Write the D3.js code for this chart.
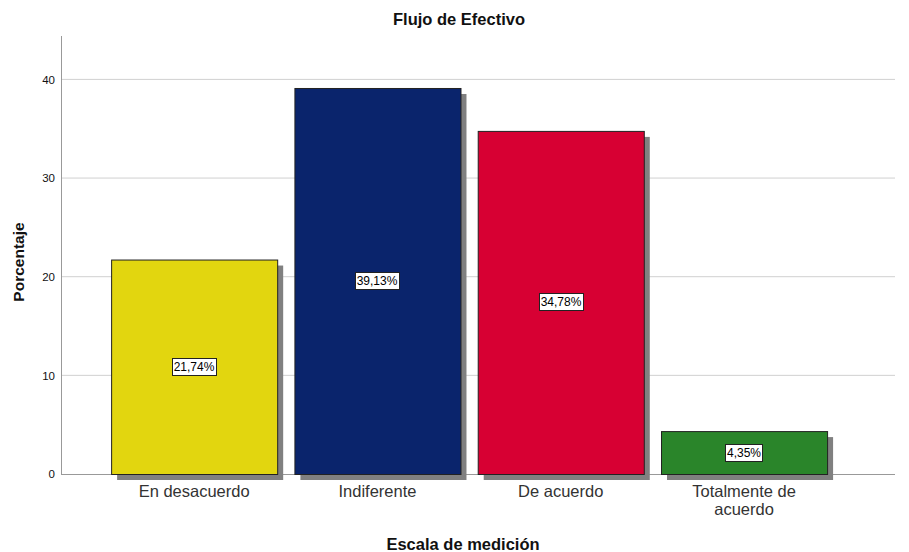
<!DOCTYPE html>
<html><head><meta charset="utf-8">
<script src="https://cdn.jsdelivr.net/npm/d3@7"></script>
<style>body{margin:0;background:#fff}svg{display:block;font-family:Arial,"Liberation Sans",sans-serif}</style>
</head><body>
<svg id="c" width="909" height="552"></svg>
<script>
const categories = ["En desacuerdo","Indiferente","De acuerdo","Totalmente de acuerdo"];
const values = [21.74, 39.13, 34.78, 4.35];
const labels = ["21,74%","39,13%","34,78%","4,35%"];
const colors = ["#E2D60F","#0A246C","#D70033","#2A852A"];
const yTicks = [0,10,20,30,40];

const svg = d3.select("#c");
const y = d3.scaleLinear().domain([0,44.4]).range([474,36]);
const x = d3.scaleBand().domain(categories).range([102.5,835.7]).paddingInner(0.094).paddingOuter(0.047);

// gridlines
svg.append("g").selectAll("line").data(yTicks.filter(d=>d>0)).join("line")
  .attr("x1",61).attr("x2",895).attr("y1",d=>y(d)).attr("y2",d=>y(d))
  .attr("stroke","#d0d0d0").attr("stroke-width",1);

// y axis
const ya = svg.append("g").attr("transform","translate(61,0)")
  .call(d3.axisLeft(y).tickValues(yTicks).tickSize(0).tickPadding(6));
ya.select(".domain").attr("stroke","#999").attr("d","M0.5,36V474.5");
ya.selectAll("text").attr("font-size",11.5).attr("fill","#111").attr("font-family","Arial,'Liberation Sans',sans-serif");

// baseline
svg.append("line").attr("x1",61).attr("x2",895).attr("y1",474.5).attr("y2",474.5).attr("stroke","#999");

// shadows
svg.append("g").selectAll("rect").data(values).join("rect")
  .attr("x",(d,i)=>x(categories[i])+6).attr("y",d=>y(d)+6)
  .attr("width",x.bandwidth()).attr("height",d=>y(0)-y(d))
  .attr("fill","#808080");

// bars
svg.append("g").selectAll("rect").data(values).join("rect")
  .attr("x",(d,i)=>x(categories[i])+0.5).attr("y",d=>y(d)+0.5)
  .attr("width",x.bandwidth()).attr("height",d=>y(0)-y(d))
  .attr("fill",(d,i)=>colors[i]).attr("stroke","#222").attr("stroke-width",1);

// value labels
const lg = svg.append("g").selectAll("g").data(values).join("g")
  .attr("transform",(d,i)=>`translate(${Math.round(x(categories[i])+x.bandwidth()/2)},${Math.round(y(d/2))})`);
lg.append("text").text((d,i)=>labels[i]).attr("text-anchor","middle").attr("dy","0.35em")
  .attr("font-size",12).attr("fill","#000").each(function(){
    const b=this.getBBox();
    d3.select(this.parentNode).insert("rect","text")
      .attr("x",Math.round(b.x)-1.5).attr("y",-8.5)
      .attr("width",Math.round(b.width)+3).attr("height",17)
      .attr("fill","#fff").attr("stroke","#222");
  });

// category labels
const cl = svg.append("g").selectAll("text").data(categories).join("text")
  .attr("x",d=>x(d)+x.bandwidth()/2).attr("y",497).attr("text-anchor","middle")
  .attr("font-size",16.5).attr("fill","#333");
cl.each(function(d){
  const t=d3.select(this);
  const parts = d==="Totalmente de acuerdo" ? ["Totalmente de","acuerdo"] : [d];
  parts.forEach((p,i)=>t.append("tspan").attr("x",x(d)+x.bandwidth()/2).attr("dy",i?18:0).text(p));
});

// title & axis titles
svg.append("text").attr("x",459).attr("y",25).attr("text-anchor","middle")
  .attr("font-size",16.5).attr("font-weight","bold").attr("fill","#111").text("Flujo de Efectivo");
svg.append("text").attr("transform","translate(24,262) rotate(-90)").attr("text-anchor","middle")
  .attr("font-size",15.5).attr("font-weight","bold").attr("fill","#111").text("Porcentaje");
svg.append("text").attr("x",463).attr("y",550).attr("text-anchor","middle")
  .attr("font-size",16.5).attr("font-weight","bold").attr("fill","#111").text("Escala de medición");
</script>
</body></html>
